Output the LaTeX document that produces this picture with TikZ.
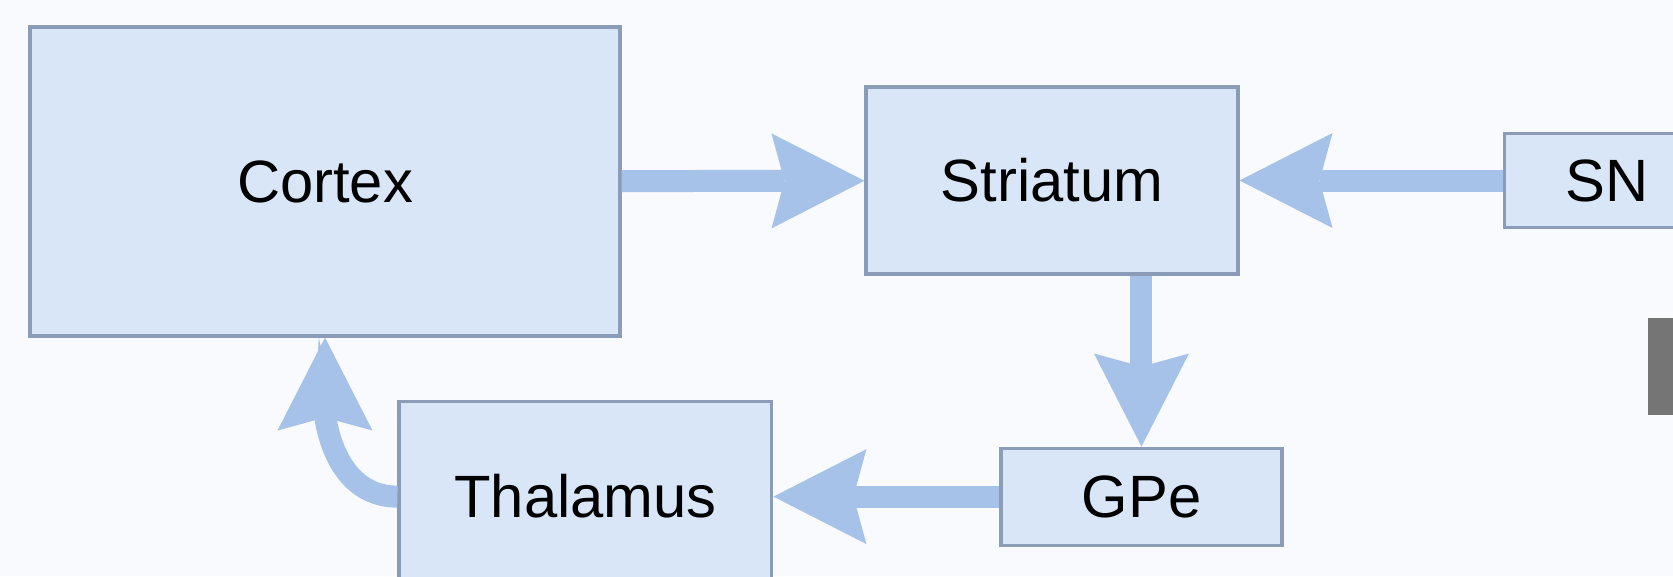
\documentclass[tikz,border=0pt]{standalone}
\usepackage{fontspec}
\setmainfont{Liberation Sans}
\usetikzlibrary{arrows.meta, positioning}

\definecolor{boxfill}{HTML}{D9E6F7}
\definecolor{boxline}{HTML}{8B9CB8}
\definecolor{arrowblue}{HTML}{A6C2E8}
\definecolor{bgcol}{HTML}{F8FAFD}
\definecolor{tabgray}{HTML}{757575}

\begin{document}
\begin{tikzpicture}[
		x=0.02cm, y=-0.02cm,
		font=\fontsize{34}{40}\selectfont,
		box/.style={
			draw=boxline,
			fill=boxfill,
			line width=1.8pt,
			rectangle,
			align=center,
			inner sep=0pt
		},
		arrow/.style={
			-{Stealth[length=1.86cm, width=1.9cm, inset=0.26cm, line width=0pt]},
			line width=0.44cm,
			draw=arrowblue
		}
		]
		
		% ---- Frame ----
		\useasboundingbox (0,0) rectangle (1673,576);
		\clip (0,0) rectangle (1673,576);
		\fill[bgcol] (0,0) rectangle (1673,576);
		
		% ---- Boxes ----
		\node[box, minimum width=11.8cm, minimum height=6.18cm] (cortex) at (325,181.5) {Cortex};
		
		\node[box, minimum width=7.44cm, minimum height=3.74cm] (striatum) at (1052,180.5) {Striatum};
		
		\node[box, right=5.26cm of striatum, minimum width=4.12cm, minimum height=1.88cm] (sn) {SN};
		
		\node[box, below=3.42cm of striatum, xshift=1.79cm, minimum width=5.62cm, minimum height=1.94cm] (gpe) {GPe};
		
		\node[box, left=4.52cm of gpe, minimum width=7.46cm, minimum height=3.8cm] (thalamus) {Thalamus};
		
		% ---- Side tab ----
		\fill[tabgray] (1648,318) rectangle (1680,415);
		
		% ---- Arrows ----
		\draw[arrow] (cortex) -- (striatum);
		\draw[arrow] (sn) -- (striatum);
		\draw[arrow] (striatum.south -| gpe) -- (gpe.north);
		\draw[arrow] (gpe) -- (thalamus);
		\draw[arrow] (thalamus.west) to[out=180, in=-90] (cortex.south);
		
	\end{tikzpicture}
\end{document}
